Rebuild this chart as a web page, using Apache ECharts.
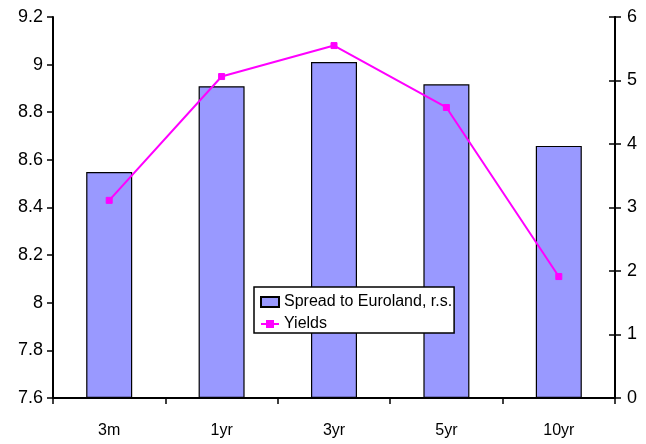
<!DOCTYPE html>
<html>
<head>
<meta charset="utf-8">
<script src="https://cdn.jsdelivr.net/npm/echarts@6/dist/echarts.min.js"></script>
<style>html,body{margin:0;padding:0;background:#fff}#c{width:646px;height:444px}</style>
</head>
<body>
<div id="c"></div>
<script>
var categories = ['3m', '1yr', '3yr', '5yr', '10yr'];
var spread = [3.56, 4.91, 5.29, 4.94, 3.97];
var yields = [8.43, 8.95, 9.08, 8.82, 8.11];
var leftTicks = {min: 7.6, max: 9.2, interval: 0.2};
var rightTicks = {min: 0, max: 6, interval: 1};

var FONT = '"Liberation Sans", Arial, sans-serif';
var chart = echarts.init(document.getElementById('c'), null, {renderer: 'canvas'});
var axisLine = {show: true, lineStyle: {color: '#000', width: 2}};
chart.setOption({
  animation: false,
  backgroundColor: '#fff',
  grid: {left: 53, right: 31, top: 17, bottom: 46, containLabel: false},
  legend: {
    orient: 'vertical',
    left: 254, top: 287,
    width: 200,
    backgroundColor: '#fff',
    borderColor: '#000', borderWidth: 1.5, borderRadius: 0,
    padding: [7, 2, 1, 6],
    itemGap: 6,
    itemWidth: 18, itemHeight: 10,
    textStyle: {fontFamily: FONT, fontSize: 16, color: '#000', lineHeight: 16},
    data: [
      {name: 'Spread to Euroland, r.s.', icon: 'rect'},
      {name: 'Yields'}
    ]
  },
  xAxis: {
    type: 'category',
    data: categories,
    boundaryGap: true,
    axisLine: axisLine,
    axisTick: {show: true, inside: false, length: 6, lineStyle: {color: '#000', width: 1.5}},
    axisLabel: {fontFamily: FONT, fontSize: 16, color: '#000', margin: 25},
    splitLine: {show: false}
  },
  yAxis: [
    {
      type: 'value', position: 'left',
      min: leftTicks.min, max: leftTicks.max, interval: leftTicks.interval,
      axisLine: axisLine,
      axisTick: {show: true, length: 6, lineStyle: {color: '#000', width: 1.5}},
      axisLabel: {fontFamily: FONT, fontSize: 18, color: '#000', margin: 10,
        formatter: function (v) { return String(+v.toFixed(1)); }},
      splitLine: {show: false}
    },
    {
      type: 'value', position: 'right',
      min: rightTicks.min, max: rightTicks.max, interval: rightTicks.interval,
      axisLine: axisLine,
      axisTick: {show: true, length: 6, lineStyle: {color: '#000', width: 1.5}},
      axisLabel: {fontFamily: FONT, fontSize: 18, color: '#000', margin: 12},
      splitLine: {show: false}
    },
    {
      type: 'value', position: 'right',
      min: rightTicks.min, max: rightTicks.max, interval: rightTicks.interval,
      axisLine: axisLine,
      axisTick: {show: true, inside: true, length: 6, lineStyle: {color: '#000', width: 1.5}},
      axisLabel: {show: false},
      splitLine: {show: false}
    }
  ],
  series: [
    {
      name: 'Spread to Euroland, r.s.',
      type: 'bar',
      yAxisIndex: 1,
      data: spread,
      barWidth: 46,
      itemStyle: {color: '#9999FF', borderColor: '#000', borderWidth: 1.2}
    },
    {
      name: 'Yields',
      type: 'line',
      yAxisIndex: 0,
      data: yields,
      symbol: 'rect',
      symbolSize: 6,
      lineStyle: {color: '#FF00FF', width: 2},
      itemStyle: {color: '#FF00FF', borderColor: '#FF00FF'},
      z: 5
    }
  ]
});
</script>
</body>
</html>
